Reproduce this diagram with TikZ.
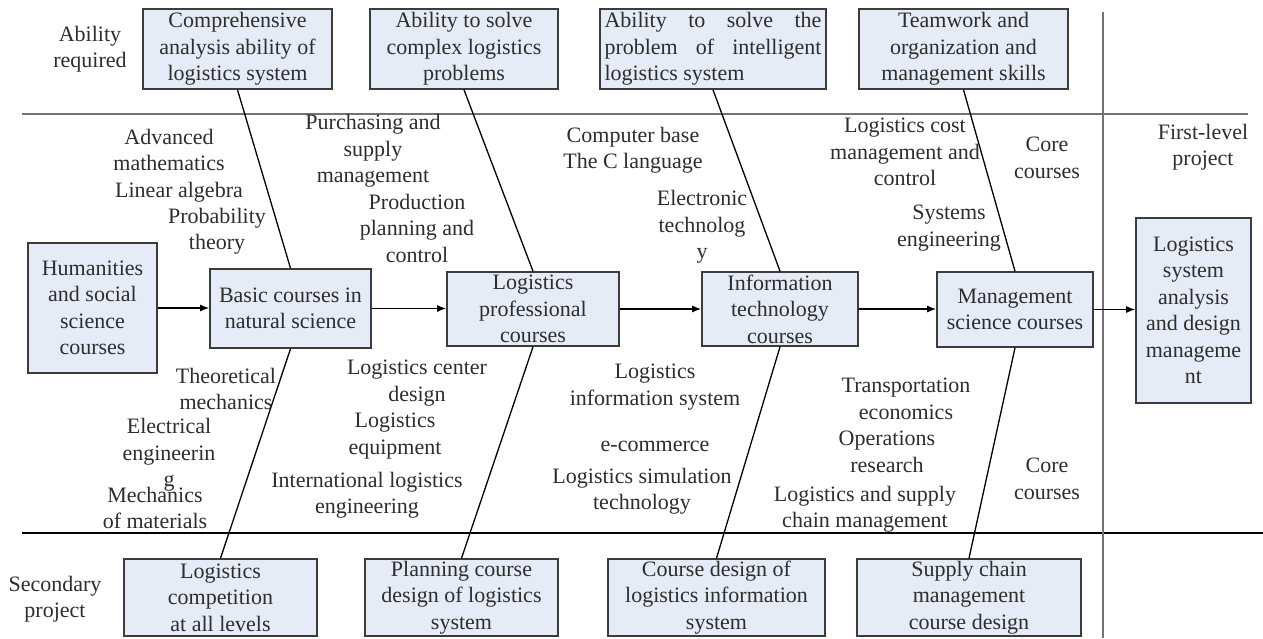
\documentclass[tikz,border=0pt]{standalone}
\usepackage{fontspec}
\setmainfont{Liberation Serif}
\usetikzlibrary{arrows.meta}
\definecolor{boxfill}{RGB}{230,236,247}
\definecolor{boxline}{RGB}{60,60,60}
\definecolor{txt}{RGB}{45,45,45}
\definecolor{rulegray}{RGB}{115,115,115}
\begin{document}
\begin{tikzpicture}[x=1pt,y=-1pt,
  every node/.style={font=\fontsize{22}{26.5}\selectfont, text=txt, align=center, inner sep=0pt},
  cbox/.style={draw=boxline, fill=boxfill, line width=1.6pt},
  bone/.style={line width=1.3pt, black},
  flow/.style={line width=1.3pt, black, -{Latex[length=9pt,width=7pt]}},
  toprule/.style={line width=2.6pt, rulegray},
  botrule/.style={line width=1.4pt, black}]
\useasboundingbox (0,0) rectangle (1263,638);

% rules
\coordinate (tl) at (22,114);
\coordinate (tr) at (1248,114);
\coordinate (bl) at (22,533);
\coordinate (br) at (1263,533);
\coordinate (vt) at (1103,12);
\coordinate (vb) at (1103,638);
\draw[toprule] (tl) -- (tr);
\draw[botrule] (bl) -- (br);
\draw[toprule, line width=2.2pt] (vt) -- (vb);

% top boxes
\node[cbox, minimum width=189pt, minimum height=80pt] (t1) at (237.5,49) {Comprehensive\\analysis ability of\\logistics system};
\node[cbox, minimum width=188pt, minimum height=80pt] (t2) at (464,49) {Ability to solve\\complex logistics\\problems};
\node[cbox, minimum width=226pt, minimum height=80pt] (t3) at (713,49) {\makebox[217pt][s]{Ability to solve the}\\\makebox[217pt][s]{problem of intelligent}\\\makebox[217pt][l]{logistics system}};
\node[cbox, minimum width=209pt, minimum height=80pt] (t4) at (963.5,49) {Teamwork and\\organization and\\management skills};

% middle boxes
\node[cbox, minimum width=129pt, minimum height=130pt] (m0) at (92.5,308) {Humanities\\and social\\science\\courses};
\node[cbox, minimum width=161pt, minimum height=79pt] (m1) at (290.5,308.5) {Basic courses in\\natural science};
\node[cbox, minimum width=172pt, minimum height=74pt] (m2) at (533,309) {Logistics\\professional\\courses};
\node[cbox, minimum width=156pt, minimum height=74pt] (m3) at (780,309) {Information\\technology\\courses};
\node[cbox, minimum width=156pt, minimum height=75pt] (m4) at (1015,309.5) {Management\\science courses};
\node[cbox, minimum width=115pt, minimum height=185pt] (m5) at (1193.5,310.5) {Logistics\\system\\analysis\\and design\\manageme\\nt};

% bottom boxes
\node[cbox, minimum width=193pt, minimum height=77pt] (b1) at (220.5,597.5) {Logistics\\competition\\at all levels};
\node[cbox, minimum width=193pt, minimum height=77pt] (b2) at (461.5,597.5) {Planning course\\design of logistics\\system};
\node[cbox, minimum width=217pt, minimum height=77pt] (b3) at (716.5,597.5) {Course design of\\logistics information\\system};
\node[cbox, minimum width=224pt, minimum height=77pt] (b4) at (969,597.5) {Supply chain\\management\\course design};

% bones
\draw[bone] (t1.south) -- (m1.north);
\draw[bone] (t2.south) -- (m2.north);
\draw[bone] (t3.south) -- (m3.north);
\draw[bone] (t4.south) -- (m4.north);
\draw[bone] (m1.south) -- (b1.north);
\draw[bone] (m2.south) -- (b2.north);
\draw[bone] (m3.south) -- (b3.north);
\draw[bone] (m4.south) -- (b4.north);

% flow arrows
\draw[flow] (m0.east) -- (m0.east -| m1.west);
\draw[flow] (m1.east) -- (m1.east -| m2.west);
\draw[flow] (m2.east) -- (m2.east -| m3.west);
\draw[flow] (m3.east) -- (m3.east -| m4.west);
\draw[flow] (m4.east) -- (m4.east -| m5.west);

% labels
\node (ar) at (90,49) {Ability\\required};
\node (la1) at (169,150) {Advanced\\mathematics};
\node (la2) at (179,192) {Linear algebra};
\node (la3) at (217,231) {Probability\\theory};
\node (lb1) at (373,151) {Purchasing and\\supply\\management};
\node (lb2) at (417,228) {Production\\planning and\\control};
\node (lc1) at (633,150) {Computer base\\The C language};
\node (lc2) at (702,227) {Electronic\\technolog\\y};
\node (ld1) at (905,152) {Logistics cost\\management and\\control};
\node (ld2) at (949,228) {Systems\\engineering};
\node (core1) at (1047,158) {Core\\courses};
\node (first) at (1203,147) {First-level\\project};
\node (le1) at (226,389) {Theoretical\\mechanics};
\node (le2) at (169,455) {Electrical\\engineerin\\g};
\node (le3) at (155,508) {Mechanics\\of materials};
\node (lf1) at (417,383) {Logistics center\\design};
\node (lf2) at (395,436) {Logistics\\equipment};
\node (lf3) at (367,495) {International logistics\\engineering};
\node (lg1) at (655,387) {Logistics\\information system};
\node (lg2) at (655,446) {e-commerce};
\node (lg3) at (642,491) {Logistics simulation\\technology};
\node (lh1) at (906,399) {Transportation\\economics};
\node (lh2) at (887,452) {Operations\\research};
\node (lh3) at (865,509) {Logistics and supply\\chain management};
\node (core2) at (1047,479) {Core\\courses};
\node (sec) at (55,599) {Secondary\\project};
\end{tikzpicture}
\end{document}
